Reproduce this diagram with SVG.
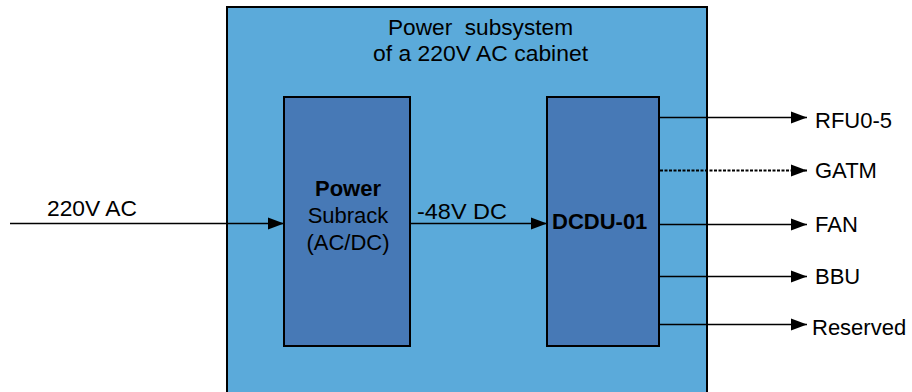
<svg xmlns="http://www.w3.org/2000/svg" width="912" height="392" viewBox="0 0 912 392">
<defs>
<style>
text{font-family:"Liberation Sans",Arial,sans-serif;font-size:22px;fill:#000}
.b{font-weight:bold}
.box{stroke:#000;stroke-width:2}
.ln{stroke:#000;stroke-width:1.6;fill:none}
.dot{stroke-dasharray:3 1.5;stroke-width:2.2}
</style>
<marker id="ah" markerUnits="userSpaceOnUse" markerWidth="17" markerHeight="13" refX="16" refY="6.5" orient="auto">
<path d="M0,0.5 L16,6.5 L0,12.5 z" fill="#000"/>
</marker>
</defs>
<rect width="912" height="392" fill="#fff"/>
<g id="cabinet">
<rect class="box" x="227" y="7" width="480" height="395" fill="#5BAADA"/>
<text x="388" y="35" textLength="185" lengthAdjust="spacingAndGlyphs" xml:space="preserve">Power  subsystem</text>
<text x="373" y="61" textLength="215" lengthAdjust="spacingAndGlyphs">of a 220V AC cabinet</text>
</g>
<g id="power-subrack">
<rect class="box" x="284" y="97" width="126" height="249" fill="#4779B6"/>
<text class="b" x="348" y="196" text-anchor="middle">Power</text>
<text x="348" y="223" text-anchor="middle">Subrack</text>
<text x="348" y="250" text-anchor="middle">(AC/DC)</text>
</g>
<g id="dcdu">
<rect class="box" x="547" y="97" width="112" height="249" fill="#4779B6"/>
<text class="b" x="552" y="229">DCDU-01</text>
</g>
<g id="connectors">
<line class="ln" x1="10" y1="223.5" x2="284" y2="223.5" marker-end="url(#ah)"/>
<line class="ln" x1="411" y1="223.5" x2="547" y2="223.5" marker-end="url(#ah)"/>
<line class="ln" x1="660" y1="117.5" x2="807" y2="117.5" marker-end="url(#ah)"/>
<line class="ln dot" x1="660" y1="170.5" x2="807" y2="170.5" marker-end="url(#ah)"/>
<line class="ln" x1="660" y1="224.5" x2="807" y2="224.5" marker-end="url(#ah)"/>
<line class="ln" x1="660" y1="276.5" x2="807" y2="276.5" marker-end="url(#ah)"/>
<line class="ln" x1="660" y1="324.5" x2="807" y2="324.5" marker-end="url(#ah)"/>
</g>
<g id="labels">
<text x="47" y="216" textLength="90" lengthAdjust="spacingAndGlyphs">220V AC</text>
<text x="417" y="219" textLength="90" lengthAdjust="spacingAndGlyphs">-48V DC</text>
<text x="815" y="128">RFU0-5</text>
<text x="815" y="178">GATM</text>
<text x="815" y="232">FAN</text>
<text x="815" y="284">BBU</text>
<text x="812" y="335">Reserved</text>
</g>
</svg>
